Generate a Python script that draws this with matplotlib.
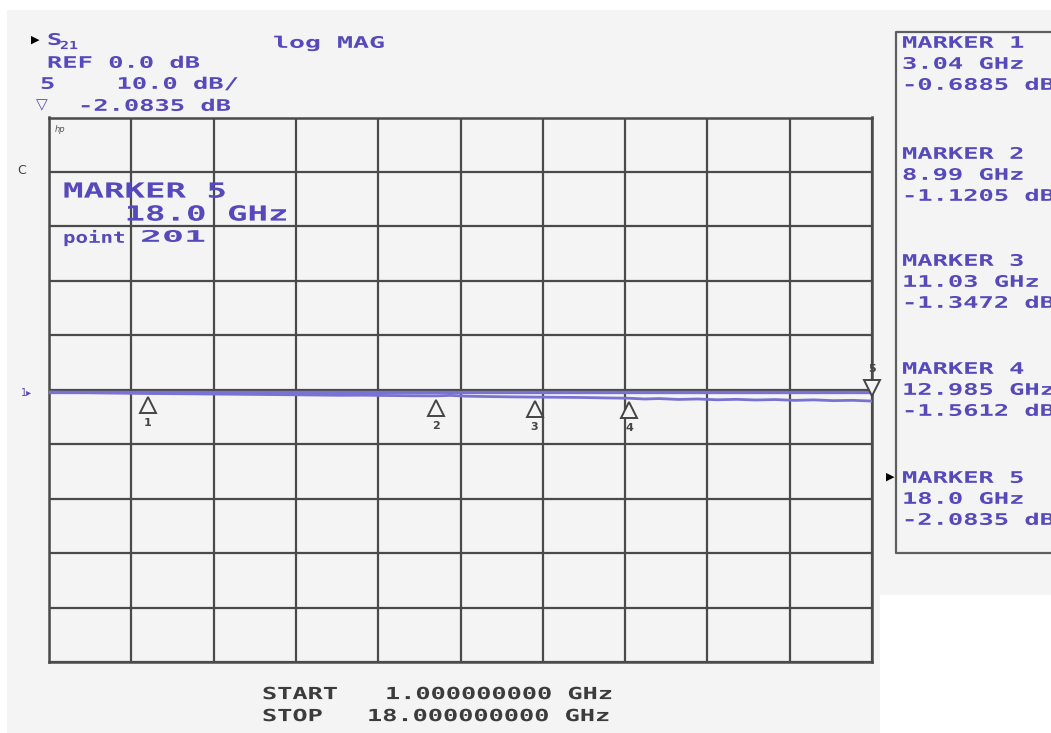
import numpy as np
import matplotlib
matplotlib.use("Agg")
import matplotlib.pyplot as plt
import matplotlib.patheffects as pe
from matplotlib.transforms import Affine2D, offset_copy
from matplotlib.patches import Polygon
from matplotlib.lines import Line2D

###############################################################################
######################## values ###############################################
###############################################################################

# S21 trace, frequency in GHz, magnitude in dB
freq_ghz = [1.0, 1.5, 2.0, 2.5, 3.04, 3.5, 4.0, 4.5, 5.0, 5.5, 6.0, 6.5, 7.0,
            7.5, 8.0, 8.5, 8.99, 9.3, 9.6, 10.0, 10.5, 11.03, 11.5, 12.0, 12.5,
            12.985, 13.3, 13.6, 14.0, 14.4, 14.8, 15.2, 15.6, 16.0, 16.4, 16.8,
            17.2, 17.6, 18.0]
s21_db = [-0.42, -0.50, -0.56, -0.62, -0.69, -0.72, -0.76, -0.80, -0.84, -0.88,
          -0.92, -0.97, -1.02, -1.00, -1.06, -1.10, -1.12, -1.04, -1.18, -1.24,
          -1.30, -1.35, -1.38, -1.42, -1.50, -1.56, -1.70, -1.62, -1.78, -1.70,
          -1.84, -1.76, -1.88, -1.80, -1.95, -1.86, -2.00, -1.94, -2.08]

# flat memory trace
mem_db = -0.5

# marker table
marker_num = ['1', '2', '3', '4', '5']
marker_ghz = [3.04, 8.99, 11.03, 12.985, 18.0]
marker_ghz_txt = ['3.04', '8.99', '11.03', '12.985', '18.0']
marker_db = [-0.6885, -1.1205, -1.3472, -1.5612, -2.0835]

start_ghz = 1.0
stop_ghz = 18.0
ref_db = 0.0
scale_db = 10.0

###############################################################################
################################ styling ######################################
###############################################################################

W, H = 1051, 733
PURPLE = '#5549bd'
TRACE = '#7a72d2'
GRIDC = '#4a4a4a'
BG = '#f4f4f4'
INK = '#3c3c3c'


class Stretch(pe.AbstractPathEffect):
    # the plotter font is much wider than any installed font, so widen glyphs
    def __init__(self, sx):
        super().__init__()
        self.sx = sx

    def draw_path(self, renderer, gc, tpath, affine, rgbFace=None):
        renderer.draw_path(gc, tpath, Affine2D().scale(self.sx, 1.0) + affine, rgbFace)


def fx(x):
    return x / W


def fy(y):
    return 1 - y / H


fig = plt.figure(figsize=(W / 100, H / 100), dpi=100, facecolor='white')

# light grey screen area, white strip top/left and white lower right corner
bg = [(7, 10), (W, 10), (W, 595), (880, 595), (880, H), (7, H)]
fig.add_artist(Polygon([(fx(a), fy(b)) for a, b in bg], closed=True,
                       facecolor=BG, edgecolor='none', zorder=-5))


def ptext(x, y, s, size=11.5, pitch=15.3, color=PURPLE):
    # x = left edge, y = middle of the capitals, both in screen pixels
    em = size * 100 / 72
    sx = pitch / (0.602 * em)
    base = y + 0.729 * em / 2
    fig.text(fx(x), fy(base), s, fontsize=size, family='DejaVu Sans Mono',
             weight='bold', color=color, ha='left', va='baseline',
             path_effects=[Stretch(sx)])


###############################################################################
################################ graticule ####################################
###############################################################################

ax = fig.add_axes([fx(49), fy(662), 823 / W, 544.5 / H])
ax.set_facecolor(BG)
ax.set_xlim(start_ghz, stop_ghz)
ax.set_ylim(ref_db - 5 * scale_db, ref_db + 5 * scale_db)
ax.set_xticks(np.linspace(start_ghz, stop_ghz, 11))
ax.set_yticks(np.linspace(ref_db - 5 * scale_db, ref_db + 5 * scale_db, 11))
ax.tick_params(length=0, labelbottom=False, labelleft=False)
ax.grid(True, color=GRIDC, lw=1.6)
for sp in ax.spines.values():
    sp.set_color(GRIDC)
    sp.set_linewidth(1.8)

ax.axhline(mem_db, color=TRACE, lw=2.4, zorder=3)
ax.plot(freq_ghz, s21_db, color=TRACE, lw=2.0, zorder=3)

# marker flags: 1-4 below the trace, the active one (5) above it
below = offset_copy(ax.transData, fig=fig, x=0, y=-12, units='dots')
above = offset_copy(ax.transData, fig=fig, x=0, y=13, units='dots')
ax.plot(marker_ghz[:4], marker_db[:4], ls='none', marker='^', ms=11,
        mfc=BG, mec='#444444', mew=1.4, transform=below, zorder=4)
ax.plot(marker_ghz[4:], marker_db[4:], ls='none', marker='v', ms=11,
        mfc=BG, mec='#444444', mew=1.4, transform=above, zorder=4, clip_on=False)
for i in range(5):
    dy = -30 if i < 4 else 32
    ax.annotate(marker_num[i], xy=(marker_ghz[i], marker_db[i]), xytext=(0, dy),
                textcoords='offset pixels', ha='center', va='center',
                fontsize=8, weight='bold', color='#444444', annotation_clip=False)

# active marker readout inside the graticule
ptext(63, 190, 'MARKER 5', size=15, pitch=20.5)
ptext(63, 213, '   ' + marker_ghz_txt[4] + ' GHz', size=15, pitch=20.5)
ptext(63, 237, 'point', size=11.5, pitch=12.5)
ptext(140, 236, '201', size=11.5, pitch=22)

###############################################################################
################################ annotations ##################################
###############################################################################

fig.text(fx(31), fy(40), '\u25b6', fontsize=8, color='black', ha='left', va='center')
ptext(47, 39, 'S')
ptext(60, 45, '21', size=8, pitch=9)
ptext(273, 42, 'log MAG', pitch=16)
ptext(47, 62, 'REF %.1f dB' % ref_db)
ptext(40, 83, '5    %.1f dB/' % scale_db)
fig.text(fx(36), fy(105), '\u25bd', fontsize=11, color=PURPLE, ha='left', va='center')
ptext(78, 105, '%.4f dB' % marker_db[4])

fig.text(fx(55), fy(130), 'hp', fontsize=6, style='italic', color='#555555',
         ha='left', va='center')
fig.text(fx(17), fy(170), 'C', fontsize=9, color='#444444', ha='left', va='center')
fig.text(fx(21), fy(393), '1\u25b8', fontsize=7, color=PURPLE, ha='left', va='center')

ptext(262, 693, 'START', size=12, pitch=15.2, color=INK)
ptext(385, 693, '%.9f GHz' % start_ghz, size=12, pitch=15.2, color=INK)
ptext(262, 715, 'STOP', size=12, pitch=15.2, color=INK)
ptext(367, 715, '%.9f GHz' % stop_ghz, size=12, pitch=15.2, color=INK)

# marker list panel on the right (cut off by the screen edge)
fig.add_artist(Line2D([fx(W + 2), fx(896), fx(896), fx(W + 2)],
                      [fy(32), fy(32), fy(553), fy(553)],
                      color='#5e5e5e', lw=1.6))
block_y = [42, 153, 260, 368, 477]
for i in range(5):
    y0 = block_y[i]
    ptext(902, y0, 'MARKER ' + marker_num[i])
    ptext(902, y0 + 21, marker_ghz_txt[i] + ' GHz')
    ptext(902, y0 + 42, '%.4f dB' % marker_db[i])
fig.text(fx(886), fy(477), '\u25b6', fontsize=8, color='black', ha='left', va='center')

plt.savefig('out.png', dpi=100)
